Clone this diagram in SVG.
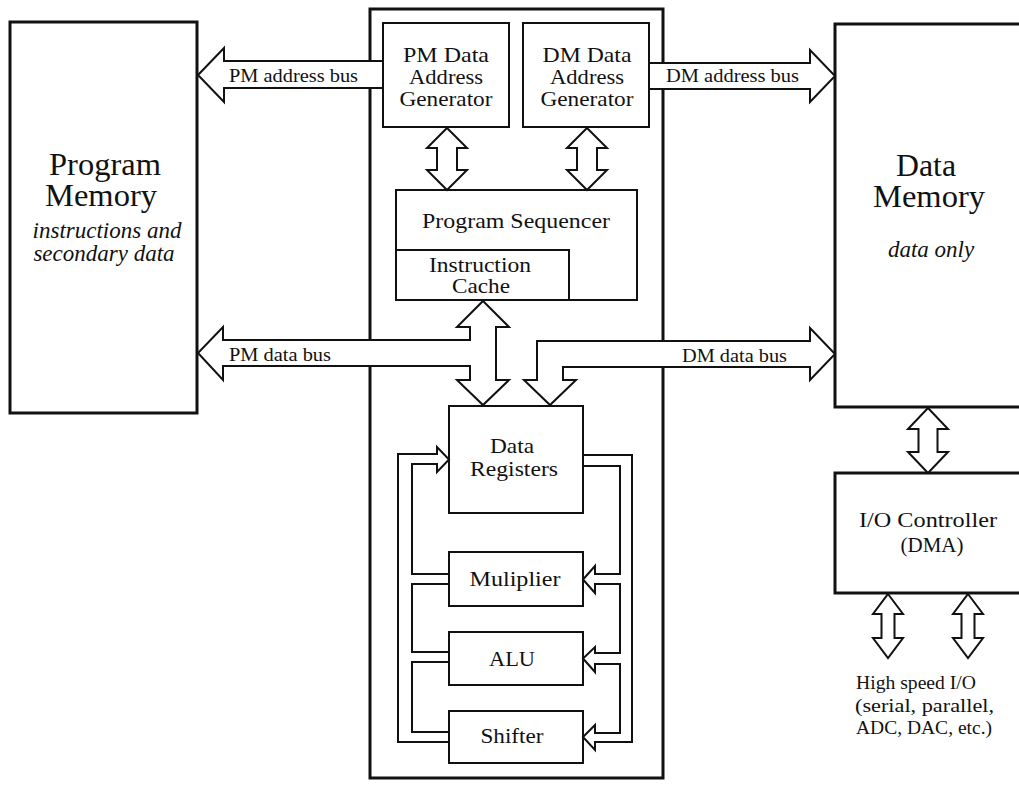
<svg xmlns="http://www.w3.org/2000/svg" width="1019" height="785" viewBox="0 0 1019 785">
<style>
text{font-family:"Liberation Serif","Times New Roman",serif;fill:#111;text-anchor:middle}
.big{font-size:31px}
.it{font-size:23px;font-style:italic}
.nd{font-size:22px}
.bus{font-size:19px;text-anchor:start}
.sm{font-size:19px;text-anchor:start}
.outer{fill:#fff;stroke:#111;stroke-width:3}
.box{fill:#fff;stroke:#111;stroke-width:2}
.arr{fill:#fff;stroke:#111;stroke-width:2;stroke-linejoin:miter}
.ln{fill:none;stroke:#111;stroke-width:2;stroke-linejoin:miter}
</style>
<rect width="1019" height="785" fill="#fff"/>
<g id="program-memory">
<rect class="outer" x="10" y="22" width="187" height="391"/>
<text class="big" x="105" y="175" textLength="112" lengthAdjust="spacingAndGlyphs">Program</text>
<text class="big" x="101" y="206" textLength="112" lengthAdjust="spacingAndGlyphs">Memory</text>
<text class="it" x="107" y="238">instructions and</text>
<text class="it" x="104" y="261">secondary data</text>
</g>
<g id="processor">
<rect class="outer" x="370" y="9" width="293" height="769"/>
</g>
<g id="data-memory">
<rect class="outer" x="835" y="24" width="200" height="383"/>
<text class="big" x="926" y="176" textLength="60" lengthAdjust="spacingAndGlyphs">Data</text>
<text class="big" x="929" y="207" textLength="112" lengthAdjust="spacingAndGlyphs">Memory</text>
<text class="it" x="931" y="257">data only</text>
</g>
<g id="io-controller">
<rect class="outer" x="835" y="473" width="200" height="120"/>
<text class="nd" x="928" y="527" textLength="138" lengthAdjust="spacingAndGlyphs">I/O Controller</text>
<text class="nd" x="932" y="552" textLength="63" lengthAdjust="spacingAndGlyphs">(DMA)</text>
</g>
<g id="pm-dag">
<rect class="box" x="383" y="23" width="126" height="104"/>
<text class="nd" x="446" y="62" textLength="86" lengthAdjust="spacingAndGlyphs">PM Data</text>
<text class="nd" x="446" y="84" textLength="74" lengthAdjust="spacingAndGlyphs">Address</text>
<text class="nd" x="446" y="106" textLength="93" lengthAdjust="spacingAndGlyphs">Generator</text>
</g>
<g id="dm-dag">
<rect class="box" x="523" y="23" width="126" height="104"/>
<text class="nd" x="587" y="62" textLength="89" lengthAdjust="spacingAndGlyphs">DM Data</text>
<text class="nd" x="587" y="84" textLength="74" lengthAdjust="spacingAndGlyphs">Address</text>
<text class="nd" x="587" y="106" textLength="93" lengthAdjust="spacingAndGlyphs">Generator</text>
</g>
<g id="program-sequencer">
<rect class="box" x="396" y="190" width="241" height="110"/>
<text class="nd" x="516" y="228" textLength="188" lengthAdjust="spacingAndGlyphs">Program Sequencer</text>
</g>
<g id="instruction-cache">
<rect class="box" x="396" y="250" width="173" height="50"/>
<text class="nd" x="480" y="272" textLength="102" lengthAdjust="spacingAndGlyphs">Instruction</text>
<text class="nd" x="481" y="293" textLength="58" lengthAdjust="spacingAndGlyphs">Cache</text>
</g>
<g id="data-registers">
<rect class="box" x="449" y="406" width="134" height="107"/>
<text class="nd" x="512" y="453" textLength="44" lengthAdjust="spacingAndGlyphs">Data</text>
<text class="nd" x="514" y="476" textLength="88" lengthAdjust="spacingAndGlyphs">Registers</text>
</g>
<g id="multiplier">
<rect class="box" x="449" y="552" width="134" height="54"/>
<text class="nd" x="515" y="586" textLength="91" lengthAdjust="spacingAndGlyphs">Muliplier</text>
</g>
<g id="alu">
<rect class="box" x="449" y="632" width="134" height="53"/>
<text class="nd" x="512" y="666" textLength="46" lengthAdjust="spacingAndGlyphs">ALU</text>
</g>
<g id="shifter">
<rect class="box" x="449" y="711" width="134" height="52"/>
<text class="nd" x="512" y="743" textLength="63" lengthAdjust="spacingAndGlyphs">Shifter</text>
</g>
<g id="connectors">
<polygon class="arr" points="198,75 224,48 224,61 383,61 383,88 224,88 224,102"/>
<polygon class="arr" points="649,63 810,63 810,50 835,76 810,102 810,89 649,89"/>
<polygon class="arr" points="483,301 509,327 496,327 496,380 509,380 483,405 457,380 470,380 470,366 223,366 223,380 198,353 223,327 223,340 470,340 470,327 457,327"/>
<polygon class="arr" points="537,341 810,341 810,328 835,354 810,380 810,367 563,367 563,380 576,380 550,405 524,380 537,380"/>
<polygon class="arr" points="447,128 467,148 457,148 457,170 467,170 447,190 427,170 437,170 437,148 427,148"/>
<polygon class="arr" points="587,128 607,148 597,148 597,170 607,170 587,190 567,170 577,170 577,148 567,148"/>
<polygon class="arr" points="928,408 948,429 937.5,429 937.5,452 948,452 928,473 908,452 918.5,452 918.5,429 908,429"/>
<polygon class="arr" points="888,594 903,614 894.5,614 894.5,638 903,638 888,658 873,638 881.5,638 881.5,614 873,614"/>
<polygon class="arr" points="968,594 983,614 974.5,614 974.5,638 983,638 968,658 953,638 961.5,638 961.5,614 953,614"/>
<path class="ln" d="M449,742 L398,742 L398,454 L437,454 L437,447 L449,459.5 L437,472 L437,464 L412,464 L412,574 L449,574"/>
<path class="ln" d="M449,584 L412,584 L412,652 L449,652"/>
<path class="ln" d="M449,662 L412,662 L412,732 L449,732"/>
<path class="ln" d="M583,455 L632,455 L632,742 L595,742 L595,750 L583,737 L595,725 L595,733 L620,733 L620,664 L595,664 L595,672 L583,658.5 L595,647 L595,653 L620,653 L620,584 L595,584 L595,593 L583,579.5 L595,566 L595,574 L620,574 L620,466 L583,466"/>
<text class="bus" x="229" y="82" textLength="129" lengthAdjust="spacingAndGlyphs">PM address bus</text>
<text class="bus" x="666" y="82" textLength="133" lengthAdjust="spacingAndGlyphs">DM address bus</text>
<text class="bus" x="229" y="361" textLength="102" lengthAdjust="spacingAndGlyphs">PM data bus</text>
<text class="bus" x="682" y="362" textLength="105" lengthAdjust="spacingAndGlyphs">DM data bus</text>
<text class="sm" x="856" y="689" textLength="120" lengthAdjust="spacingAndGlyphs">High speed I/O</text>
<text class="sm" x="855" y="712" textLength="139" lengthAdjust="spacingAndGlyphs">(serial, parallel,</text>
<text class="sm" x="856" y="734" textLength="136" lengthAdjust="spacingAndGlyphs">ADC, DAC, etc.)</text>
</g>
</svg>
